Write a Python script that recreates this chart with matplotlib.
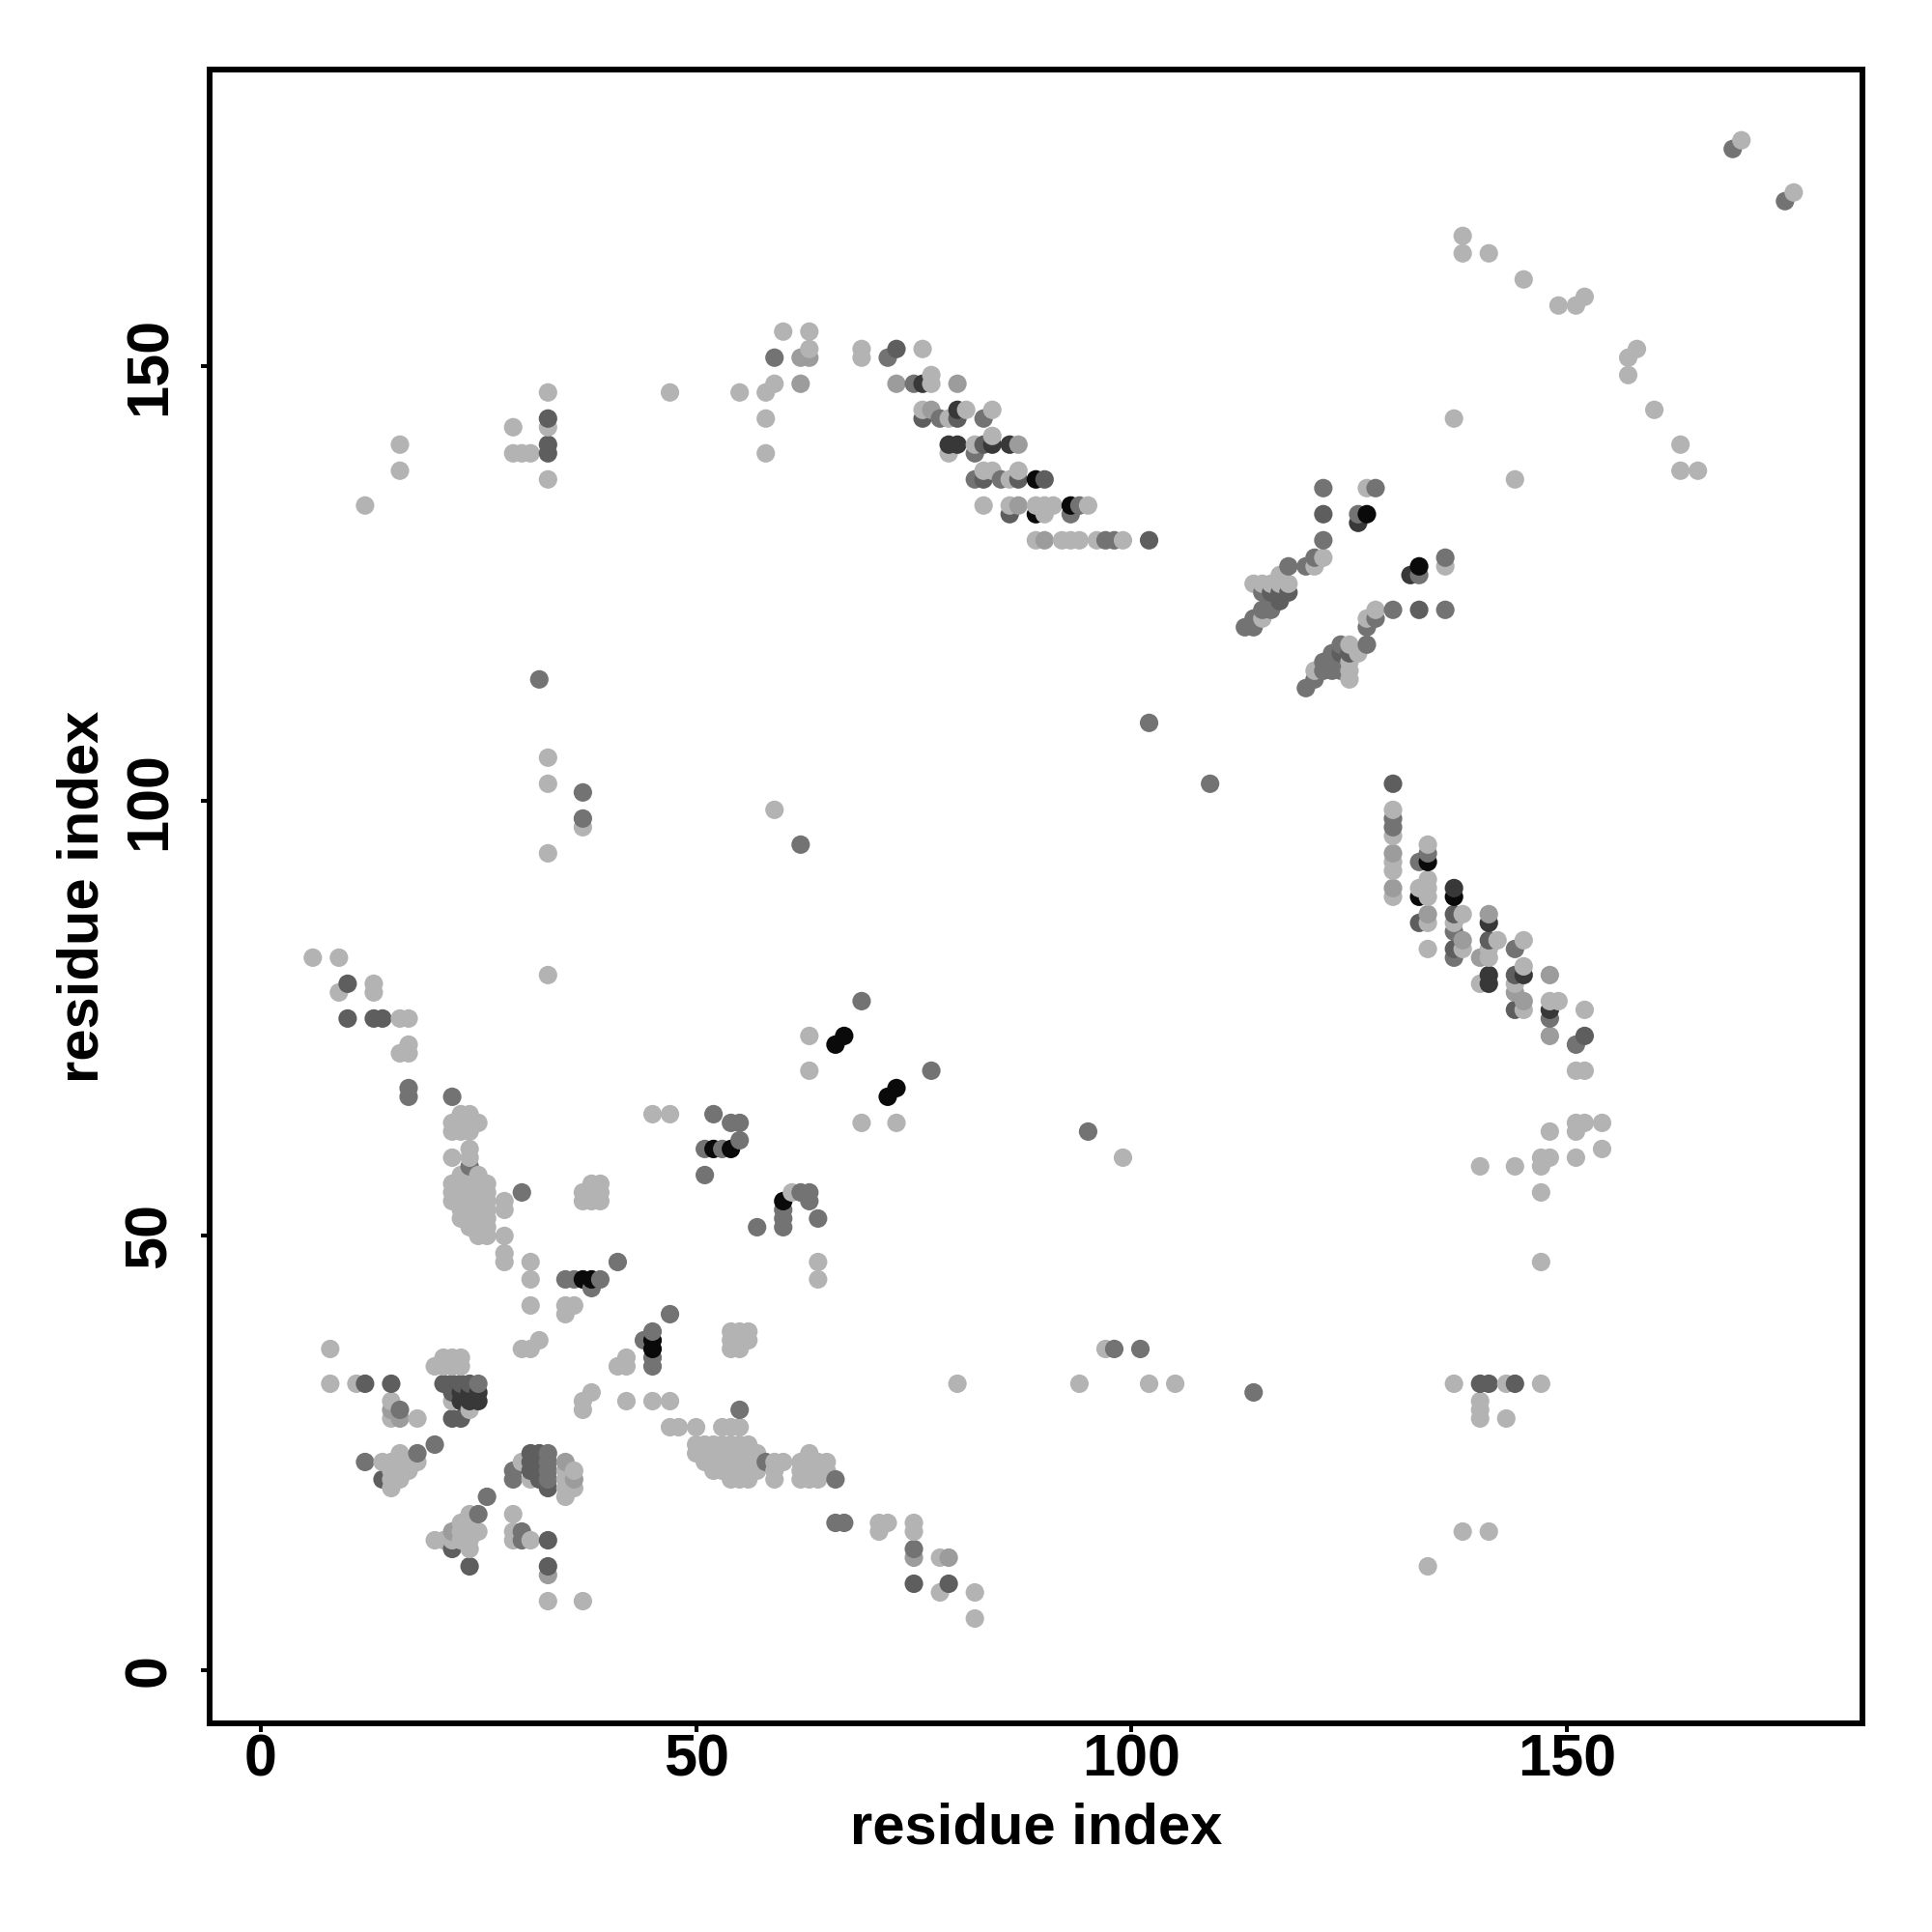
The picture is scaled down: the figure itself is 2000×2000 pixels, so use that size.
import numpy as np
import matplotlib
matplotlib.use("Agg")
import matplotlib.pyplot as plt

plt.rcParams['font.family'] = ['Liberation Sans', 'DejaVu Sans']
plt.rcParams['font.weight'] = 'bold'

# contacts (residue i, residue j) per grey shade
light = [(6,82),(9,82),(9,78),(13,79),(13,78),(16,75),(17,75),(16,71),(17,72),(17,71),
(23,64),(24,64),(22,63),(23,63),(24,63),(25,63),(22,62),(23,62),(24,62),(24,60),(22,59),(24,59),
(23,57),(25,57),(22,56),(23,56),(24,56),(25,56),(26,56),(22,55),(23,55),(24,55),(25,55),(26,55),
(22,54),(23,54),(24,54),(25,54),(26,54),(23,53),(24,53),(25,53),(26,53),(23,52),(24,52),(25,52),(26,52),
(24,51),(25,51),(26,51),(25,50),(26,50),(28,54),(28,53),(28,50),(28,48),(28,47),(31,47),(31,45),(31,42),
(35,42),(36,42),(35,41),(38,56),(39,56),(37,55),(38,55),(39,55),(37,54),(38,54),(39,54),(45,64),(47,64),
(8,37),(8,33),(11,33),(15,31),(15,29),(16,29),(18,29),(20,35),(21,36),(23,36),(21,35),(22,35),(23,35),(22,36),
(22,31),(24,30),(16,25),(14,24),(15,24),(16,24),(17,24),(18,24),(15,23),(16,23),(17,23),(15,22),(16,22),(15,21),
(24,18),(23,17),(24,17),(22,16),(23,16),(24,16),(25,16),(20,15),(21,15),(22,15),(23,15),(24,15),(24,14),
(29,18),(29,16),(29,15),(31,15),(33,8),(37,8),(30,24),(31,22),(35,23),(36,23),(35,22),(36,21),(35,21),(35,20),
(38,32),(37,31),(37,30),(42,31),(45,31),(47,31),(42,36),(41,35),(42,35),(30,37),(31,37),(32,38),
(54,39),(55,39),(56,39),(54,38),(55,38),(56,38),(54,37),(55,37),
(47,28),(48,28),(50,28),(53,28),(54,28),(55,28),
(50,26),(51,26),(52,26),(53,26),(54,26),(55,26),(56,26),(50,25),(51,25),(52,25),(53,25),(54,25),(55,25),(56,25),(57,25),
(51,24),(52,24),(53,24),(54,24),(55,24),(56,24),(57,24),(52,23),(53,23),(54,23),(55,23),(56,23),(57,23),(54,22),(55,22),(56,22),
(59,24),(60,24),(59,23),(59,22),(63,25),(62,24),(63,24),(64,24),(65,24),(62,23),(63,23),(64,23),(65,23),(62,22),(63,22),(64,22),
(71,17),(72,17),(71,16),(78,13),(78,9),(82,9),(82,6),(80,33),(94,33),(76,152),(77,149),(77,148),(76,145),(81,145),(84,145),(79,144),
(82,141),(84,142),(79,140),(84,138),(87,138),(83,138),(86,137),(83,134),(86,134),(90,134),(91,134),(89,134),(95,134),(90,133),
(89,130),(92,130),(93,130),(94,130),(96,130),(99,130),(127,136),(122,128),(121,127),(117,126),(114,125),(115,125),(116,125),(117,125),(118,125),
(115,121),(136,127),(128,122),(127,121),(125,118),(126,117),(125,116),(121,115),(125,115),(125,114),
(130,99),(130,96),(130,93),(130,92),(130,89),(134,95),(134,91),(134,90),(133,90),(134,89),(134,86),(134,83),(137,86),(138,87),(138,83),(141,83),(141,82),(142,84),
(140,79),(145,84),(145,81),(144,79),(145,76),(148,77),(149,77),(152,76),(151,69),(152,69),
(170,176),(176,170),(138,165),(138,163),(141,163),(145,160),(149,157),(151,157),(152,158),(157,151),(158,152),(157,149),(160,145),(163,141),(163,138),(165,138),
(137,144),(144,137),(12,134),(16,138),(16,141),(29,143),(29,140),(30,140),(31,140),(33,147),(33,143),(33,137),(47,147),(55,147),(58,147),(59,148),(58,144),(58,140),
(60,154),(63,152),(63,154),(69,152),(69,151),(33,105),(33,102),(33,94),(33,80),(37,97),(59,99),(63,73),(63,69),(69,63),(73,63),(61,55),(64,47),(64,45),
(99,59),(140,58),(144,58),(147,59),(148,59),(147,58),(148,62),(147,55),(147,47),(151,59),(151,62),(152,63),(151,63),(154,63),(154,60),
(97,37),(102,33),(105,33),(137,33),(143,33),(147,33),(140,31),(140,30),(140,29),(143,29),(138,16),(141,16),(134,12),(75,17),(75,16)]

medium = [(15,30),(33,11),(75,13),(79,13),(73,148),(77,145),(80,148),(87,141),(87,134),(90,130),(97,130),(98,130),
(130,94),(130,90),(134,87),(138,84),(141,87),(148,80),(148,73),(145,77),(144,78),(137,85),(140,82),(62,148),(59,151),(62,151),(63,151),(16,29),(36,22),(22,16),
(85,137),(78,144),(94,134),(75,148),(35,24),(29,22)]

mid_dark = [(17,67),(17,66),(22,66),(24,58),(30,55),(35,45),(36,45),(39,45),(38,44),(41,47),(51,60),(53,60),(45,39),(44,38),(45,36),(45,35),(47,41),(52,64),
(16,30),(18,25),(20,26),(12,24),(26,20),(25,18),(30,16),(30,15),(29,23),(29,22),(33,25),(33,24),(33,23),(33,22),(25,33),(58,24),(66,22),(66,17),(67,17),(75,14),
(55,30),(72,151),(75,148),(78,144),(83,144),(82,140),(82,137),(85,137),(93,133),(94,134),(97,130),(98,130),
(122,136),(128,136),(122,130),(120,127),(121,128),(118,127),(115,124),(116,123),(115,122),(116,122),(114,121),(113,120),(114,120),(128,121),(127,120),(127,118),(124,118),(123,117),
(122,116),(123,116),(124,116),(122,115),(123,115),(124,115),(120,113),(121,114),(136,128),(133,126),(130,122),(136,122),(126,133),
(130,98),(130,97),(134,94),(133,93),(137,85),(137,82),(144,83),(148,75),(151,72),(95,62),(102,109),(109,102),(114,32),(98,37),(101,37),(32,114),(37,101),(37,98),(62,95),(69,77),(77,69),(51,57),
(57,51),(64,52),(63,54),(62,55),(63,55),(59,151),(60,53),(60,52),(60,51),(55,63),(54,63),(55,61),(169,175),(175,169)]

dark = [(10,79),(10,75),(13,75),(14,75),(12,33),(15,33),(21,33),(22,33),(23,33),(24,33),(22,32),(22,29),(23,29),(14,22),(22,14),(24,12),(33,15),(33,12),(75,10),(79,10),
(31,25),(32,25),(31,24),(32,24),(31,23),(32,23),(32,22),(33,21),(73,152),(76,144),(80,144),(83,141),(84,141),(83,137),(87,137),(90,137),(86,133),(102,130),
(122,133),(118,124),(117,124),(116,124),(117,123),(125,117),(124,117),(133,122),(130,102),(133,86),(137,87),(137,83),(141,84),(144,80),(144,76),(152,73),(140,33),(141,33),(144,33),(33,144),(33,141),(33,140)]

very_dark = [(23,32),(24,32),(25,32),(23,31),(24,31),(25,31),(76,148),(80,145),(79,141),(80,141),(86,141),(84,141),(141,79),(141,80),(145,80),(148,76),(137,90),(141,86),(126,132),(132,126)]

black = [(37,45),(38,45),(45,38),(45,37),(52,60),(54,60),(60,54),(66,72),(67,73),(72,66),(73,67),(89,137),(93,134),(89,133),(127,133),(133,127),(134,93),(133,89),(137,89)]

shades = [(light, 0.70), (medium, 0.61), (mid_dark, 0.45), (dark, 0.37), (very_dark, 0.22), (black, 0.04)]

xticks = [0, 50, 100, 150]
xlabel_text = 'residue index'
ylabel_text = 'residue index'

# one value per contact: darker shade wins, drawn in x then y order
cells = {}
for pts, g in shades:
    for p in pts:
        cells[(round(p[0]), round(p[1]))] = g
keys = sorted(cells)
xs = np.array([k[0] for k in keys])
ys = np.array([k[1] for k in keys])
gs = np.array([cells[k] for k in keys])

fig = plt.figure(figsize=(20, 20), dpi=100)
ax = fig.add_axes([0.10825, 0.10825, 0.8558, 0.8556])
ax.scatter(xs, ys, s=190, c=[str(g) for g in gs], linewidths=0, clip_on=True)
ax.set_xlim(-5.9, 183.9)
ax.set_ylim(-6, 184.1)
ax.set_xticks(xticks)
ax.set_yticks(xticks)
ax.tick_params(axis='both', length=6.5, width=2.9, labelsize=44)
ax.tick_params(axis='x', pad=1.5)
ax.tick_params(axis='y', pad=16.5)
for t in ax.get_yticklabels():
    t.set_rotation(90)
    t.set_va('center')
for s in ax.spines.values():
    s.set_linewidth(4.3)
ax.set_xlabel(xlabel_text, fontsize=43, fontweight='bold', labelpad=10)
ax.set_ylabel(ylabel_text, fontsize=43, fontweight='bold', labelpad=10)
fig.savefig('out.png', dpi=100, facecolor='white')
